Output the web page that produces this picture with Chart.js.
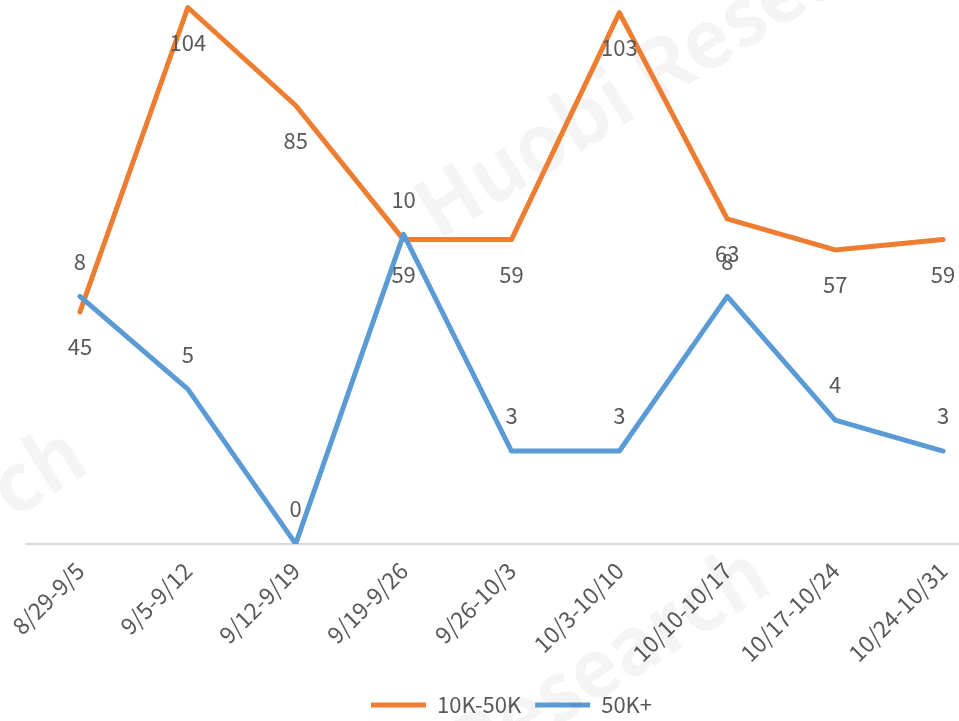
<!DOCTYPE html>
<html>
<head>
<meta charset="utf-8">
<script src="https://cdn.jsdelivr.net/npm/chart.js@4.4.0/dist/chart.umd.min.js"></script>
<style>
  html, body { margin: 0; padding: 0; background: #fff; overflow: hidden; width: 959px; height: 721px; }
  #wrap { position: absolute; left: 0; top: -75px; width: 1015px; height: 801px; }
</style>
</head>
<body>
<div id="wrap"><canvas id="weekly-chart"></canvas></div>
<script>
var weeks = ["8/29-9/5","9/5-9/12","9/12-9/19","9/19-9/26","9/26-10/3","10/3-10/10","10/10-10/17","10/17-10/24","10/24-10/31"];
var mid = [45, 104, 85, 59, 59, 103, 63, 57, 59];   // 10K-50K
var big = [8, 5, 0, 10, 3, 3, 8, 4, 3];              // 50K+
var seriesNames = ["10K-50K", "50K+"];

var grey = "#595959";
var fontName = "'Noto Sans CJK SC', 'Noto Sans', sans-serif";

// faint watermark behind the lines
var watermark = {
  id: 'watermark',
  beforeDatasetsDraw: function(chart) {
    var ctx = chart.ctx;
    var spots = [[960, -10], [92, 545], [775, 665]];
    ctx.save();
    ctx.fillStyle = "rgba(0,0,0,0.045)";
    ctx.font = "bold 80px " + fontName;
    ctx.textAlign = "right";
    ctx.textBaseline = "alphabetic";
    for (var i = 0; i < spots.length; i++) {
      ctx.save();
      ctx.translate(spots[i][0], spots[i][1]);
      ctx.rotate(-32 * Math.PI / 180);
      ctx.fillText("Huobi Research", 0, 0);
      ctx.restore();
    }
    ctx.restore();
  }
};

// value labels: blue above its line, orange below
var valueLabels = {
  id: 'valueLabels',
  afterDatasetsDraw: function(chart) {
    var ctx = chart.ctx;
    ctx.save();
    ctx.font = "22px " + fontName;
    ctx.fillStyle = grey;
    ctx.textAlign = "center";
    ctx.textBaseline = "middle";
    chart.data.datasets.forEach(function(ds, i) {
      var meta = chart.getDatasetMeta(i);
      var shift = ds.yAxisID === 'y1' ? -35 : 35;
      meta.data.forEach(function(pt, j) {
        ctx.fillText(String(ds.data[j]), pt.x, pt.y + shift);
      });
    });
    ctx.restore();
  }
};

new Chart(document.getElementById("weekly-chart"), {
  type: 'line',
  data: {
    labels: weeks,
    datasets: [
      {
        label: seriesNames[0],
        data: mid,
        yAxisID: 'y',
        borderColor: "#ED7D31",
        backgroundColor: "#ED7D31",
        borderWidth: 5,
        borderCapStyle: 'round',
        borderJoinStyle: 'round',
        pointRadius: 0,
        fill: false,
        order: 1
      },
      {
        label: seriesNames[1],
        data: big,
        yAxisID: 'y1',
        borderColor: "#5B9BD5",
        backgroundColor: "#5B9BD5",
        borderWidth: 5,
        borderCapStyle: 'round',
        borderJoinStyle: 'round',
        pointRadius: 0,
        fill: false,
        order: 0
      }
    ]
  },
  options: {
    responsive: true,
    maintainAspectRatio: false,
    animation: false,
    layout: { padding: { left: 26, right: 18, top: 0, bottom: 0 } },
    scales: {
      x: {
        offset: true,
        grid: { display: false, drawTicks: false },
        border: { display: true, color: "#d9d9d9", width: 2 },
        ticks: {
          color: grey,
          font: { family: fontName, size: 23 },
          minRotation: 45,
          maxRotation: 45,
          padding: 13,
          autoSkip: false
        }
      },
      y: { display: false, min: 0, max: 120 },
      y1: { display: false, min: 0, max: 20, position: 'right' }
    },
    plugins: {
      legend: {
        position: 'bottom',
        labels: {
          color: grey,
          font: { family: fontName, size: 22 },
          usePointStyle: true,
          pointStyle: 'line',
          pointStyleWidth: 55,
          padding: 14,
          sort: function(a, b) { return a.datasetIndex - b.datasetIndex; }
        }
      },
      tooltip: { enabled: false }
    }
  },
  plugins: [watermark, valueLabels]
});
</script>
</body>
</html>
